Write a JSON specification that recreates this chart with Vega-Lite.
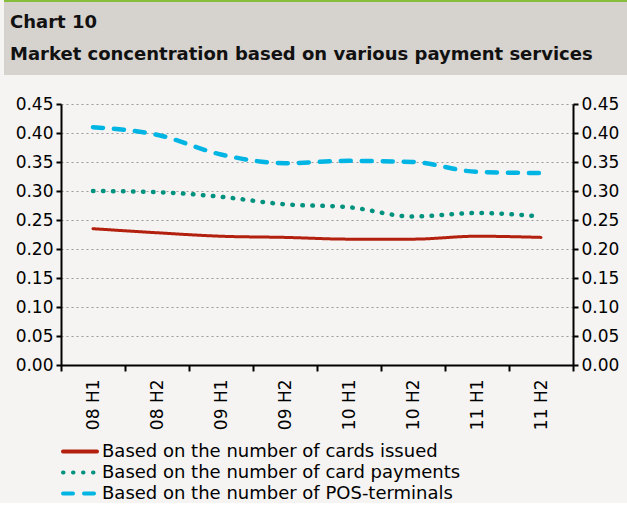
{
  "$schema": "https://vega.github.io/schema/vega-lite/v6.json",
  "background": "#f5f4f2",
  "padding": {"top": 0, "left": 4, "right": 0, "bottom": 0},
  "config": {"font": "DejaVu Sans", "view": {"stroke": null}},
  "spacing": 20,
  "datasets": {
    "header": [
      {"row": 1, "line": "Chart 10"},
      {"row": 2, "line": "Market concentration based on various payment services"}
    ],
    "main": [
      {"period": "08 H1", "series": "Based on the number of cards issued", "value": 0.235},
      {"period": "08 H2", "series": "Based on the number of cards issued", "value": 0.228},
      {"period": "09 H1", "series": "Based on the number of cards issued", "value": 0.222},
      {"period": "09 H2", "series": "Based on the number of cards issued", "value": 0.220},
      {"period": "10 H1", "series": "Based on the number of cards issued", "value": 0.217},
      {"period": "10 H2", "series": "Based on the number of cards issued", "value": 0.217},
      {"period": "11 H1", "series": "Based on the number of cards issued", "value": 0.222},
      {"period": "11 H2", "series": "Based on the number of cards issued", "value": 0.220},
      {"period": "08 H1", "series": "Based on the number of card payments", "value": 0.300},
      {"period": "08 H2", "series": "Based on the number of card payments", "value": 0.298},
      {"period": "09 H1", "series": "Based on the number of card payments", "value": 0.290},
      {"period": "09 H2", "series": "Based on the number of card payments", "value": 0.277},
      {"period": "10 H1", "series": "Based on the number of card payments", "value": 0.272},
      {"period": "10 H2", "series": "Based on the number of card payments", "value": 0.256},
      {"period": "11 H1", "series": "Based on the number of card payments", "value": 0.262},
      {"period": "11 H2", "series": "Based on the number of card payments", "value": 0.256},
      {"period": "08 H1", "series": "Based on the number of POS-terminals", "value": 0.410},
      {"period": "08 H2", "series": "Based on the number of POS-terminals", "value": 0.397},
      {"period": "09 H1", "series": "Based on the number of POS-terminals", "value": 0.363},
      {"period": "09 H2", "series": "Based on the number of POS-terminals", "value": 0.348},
      {"period": "10 H1", "series": "Based on the number of POS-terminals", "value": 0.352},
      {"period": "10 H2", "series": "Based on the number of POS-terminals", "value": 0.350},
      {"period": "11 H1", "series": "Based on the number of POS-terminals", "value": 0.333},
      {"period": "11 H2", "series": "Based on the number of POS-terminals", "value": 0.331}
    ]
  },
  "vconcat": [
    {
      "spacing": 0,
      "vconcat": [
        {
          "width": 623, "height": 2,
          "view": {"fill": "#86bd3b", "stroke": null},
          "data": {"values": [{}]},
          "mark": {"type": "text", "text": "", "fontSize": 0}
        },
        {
          "width": 623, "height": 73,
          "view": {"fill": "#d6d2ce", "stroke": null},
          "data": {"name": "header"},
          "mark": {"type": "text", "align": "left", "baseline": "alphabetic", "dx": 6, "fontSize": 18, "fontWeight": "bold", "color": "#111111"},
          "encoding": {
            "x": {"datum": 0, "type": "quantitative", "scale": {"domain": [0, 1]}, "axis": null},
            "y": {"field": "row", "type": "quantitative", "scale": {"domain": [0.1875, 2.469], "reverse": true, "nice": false, "zero": false}, "axis": null},
            "text": {"field": "line"}
          }
        }
      ]
    },
    {
      "spacing": 0,
      "resolve": {"legend": {"color": "independent", "strokeDash": "independent"}},
      "hconcat": [
        {
          "width": 1, "height": 1,
          "data": {"values": [{}]},
          "mark": {"type": "text", "text": "", "fontSize": 0}
        },
        {
          "width": 512, "height": 261,
          "data": {"name": "main"},
          "layer": [
            {
              "mark": {"type": "line", "interpolate": "monotone", "strokeCap": "round"},
              "encoding": {
                "x": {
                  "field": "period", "type": "ordinal",
                  "scale": {"type": "band", "paddingInner": 0, "paddingOuter": 0},
                  "axis": {
                    "title": null, "labelAngle": -90, "labelAlign": "right", "labelBaseline": "middle",
                    "labelFontSize": 17, "labelColor": "#000000", "labelPadding": 8,
                    "tickBand": "extent", "tickSize": 6, "tickWidth": 2, "tickColor": "#000000",
                    "domainColor": "#000000", "domainWidth": 2, "grid": false
                  }
                },
                "y": {
                  "field": "value", "type": "quantitative",
                  "scale": {"domain": [0, 0.45], "nice": false},
                  "axis": {
                    "title": null, "orient": "left",
                    "values": [0, 0.05, 0.1, 0.15, 0.2, 0.25, 0.3, 0.35, 0.4, 0.45],
                    "format": ".2f", "grid": true, "gridDash": [2, 3], "gridColor": "#9a9a9a", "gridWidth": 1,
                    "tickSize": 5, "tickWidth": 2, "tickColor": "#000000",
                    "domainColor": "#000000", "domainWidth": 2,
                    "labelFontSize": 17, "labelColor": "#000000", "labelPadding": 3, "minExtent": 56
                  }
                },
                "color": {
                  "field": "series", "type": "nominal",
                  "scale": {
                    "domain": ["Based on the number of cards issued", "Based on the number of card payments", "Based on the number of POS-terminals"],
                    "range": ["#b3200e", "#00927f", "#00b5e3"]
                  },
                  "legend": {
                    "title": null, "orient": "bottom", "direction": "vertical", "offset": 12,
                    "symbolType": "stroke", "symbolSize": 1156, "symbolStrokeWidth": 4,
                    "labelFontSize": 18, "labelColor": "#000000", "labelOffset": 3, "labelLimit": 600,
                    "rowPadding": 2, "clipHeight": 19, "padding": 0,
                    "encode": {"symbols": {"update": {"strokeCap": {"value": "round"}}}}
                  }
                },
                "strokeDash": {
                  "field": "series", "type": "nominal",
                  "scale": {
                    "domain": ["Based on the number of cards issued", "Based on the number of card payments", "Based on the number of POS-terminals"],
                    "range": [[1, 0], [0.5, 9.5], [10, 11]]
                  },
                  "legend": {
                    "title": null, "orient": "bottom", "direction": "vertical", "offset": 12,
                    "symbolType": "stroke", "symbolSize": 1156, "symbolStrokeWidth": 4,
                    "labelFontSize": 18, "labelColor": "#000000", "labelOffset": 3, "labelLimit": 600,
                    "rowPadding": 2, "clipHeight": 19, "padding": 0,
                    "encode": {"symbols": {"update": {"strokeCap": {"value": "round"}}}}
                  }
                },
                "strokeWidth": {
                  "field": "series", "type": "nominal",
                  "scale": {
                    "type": "ordinal",
                    "domain": ["Based on the number of cards issued", "Based on the number of card payments", "Based on the number of POS-terminals"],
                    "range": [3, 4.5, 4.5]
                  },
                  "legend": null
                }
              }
            },
            {
              "mark": {"type": "line", "opacity": 0},
              "encoding": {
                "x": {"field": "period", "type": "ordinal"},
                "y": {
                  "field": "value", "type": "quantitative",
                  "axis": {
                    "title": null, "orient": "right",
                    "values": [0, 0.05, 0.1, 0.15, 0.2, 0.25, 0.3, 0.35, 0.4, 0.45],
                    "format": ".2f", "grid": false,
                    "tickSize": 5, "tickWidth": 2, "tickColor": "#000000",
                    "domainColor": "#000000", "domainWidth": 2,
                    "labelFontSize": 17, "labelColor": "#000000", "labelPadding": 3
                  }
                }
              }
            }
          ],
          "resolve": {"axis": {"y": "independent"}}
        }
      ]
    }
  ]
}
